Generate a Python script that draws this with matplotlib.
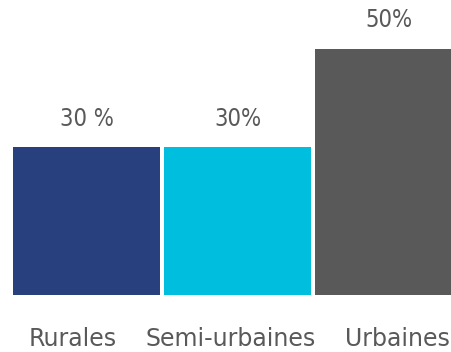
import matplotlib.pyplot as plt

categories = ["Rurales", "Semi-urbaines", "Urbaines"]
values = [30, 30, 50]
value_labels = ["30 %", "30%", "50%"]
colors = ["#28417E", "#00BFDE", "#595959"]

# horizontal nudges of the category labels (in bar units), as in the original
label_shift = [-0.093, -0.043, 0.062]

fig = plt.figure(figsize=(4.51, 3.52), dpi=100)
ax = fig.add_axes([0, 0, 1, 1])

x = range(len(categories))
ax.bar(x, values, width=0.973, color=colors)

for i, (v, lab) in enumerate(zip(values, value_labels)):
    ax.text(i, v + 5.7, lab, ha="center", va="center", fontsize=17,
            fontstretch="condensed", color="#595959")

for i, cat in enumerate(categories):
    ax.text(i + label_shift[i], -8.9, cat, ha="center", va="center",
            fontsize=17, color="#595959")

ax.set_xlim(-0.573, 2.414)
ax.set_ylim(-11.56, 59.84)
ax.axis("off")

fig.savefig("out.png", dpi=100)
